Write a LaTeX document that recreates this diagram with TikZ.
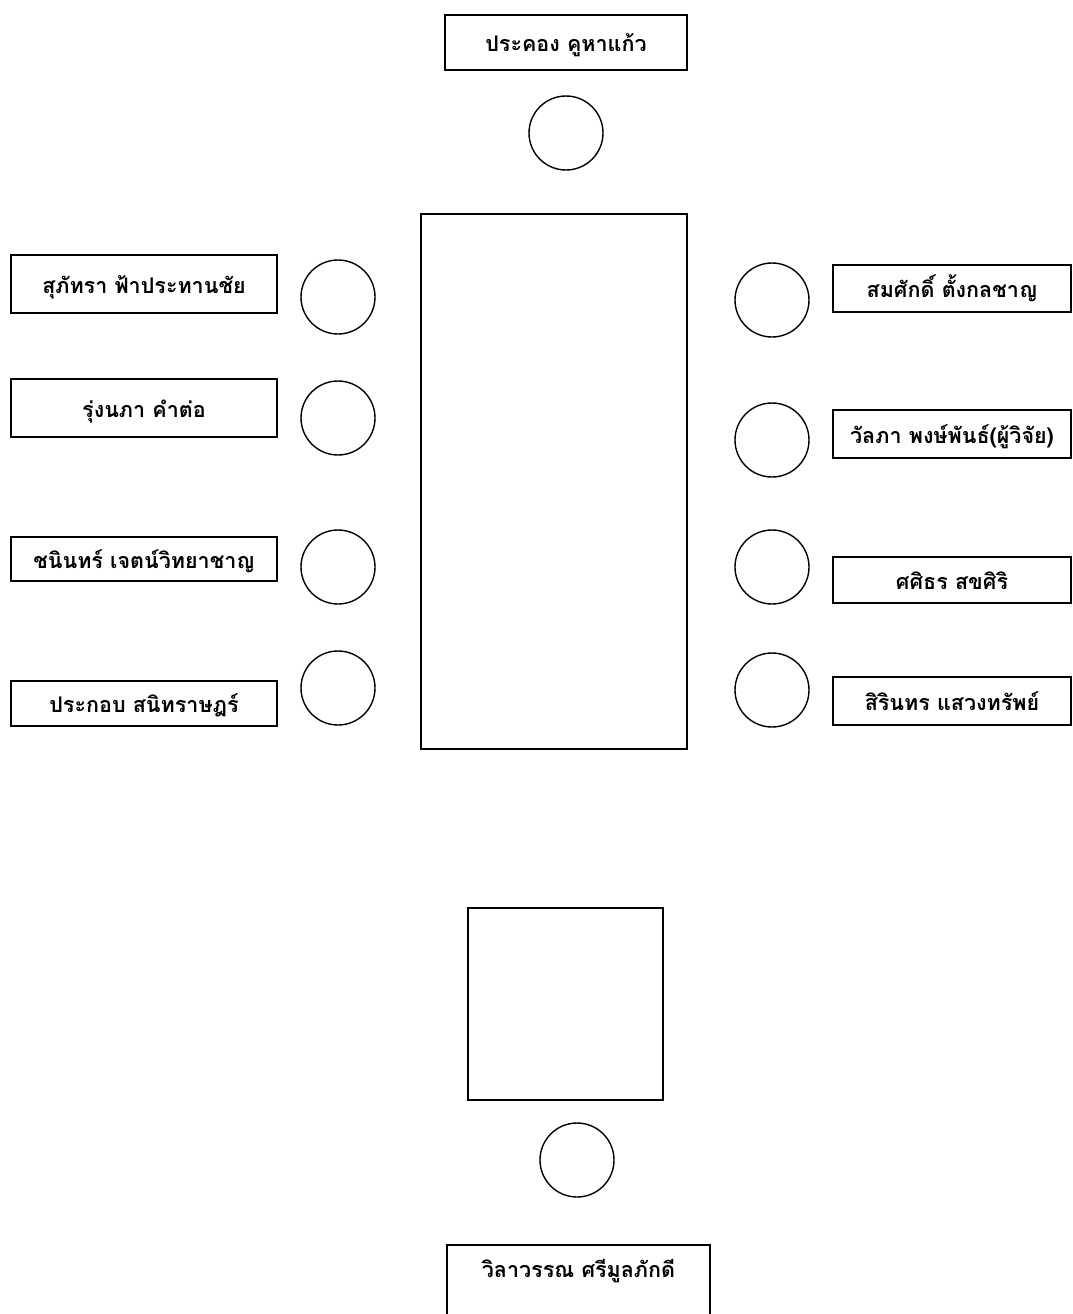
\documentclass[tikz,border=0pt]{standalone}
\usepackage{fontspec}
\newfontfamily\thaifont[Script=Thai]{Loma}
\newcommand{\lowered}[1]{\raisebox{-9pt}[0pt][0pt]{#1}}
\begin{document}
\begin{tikzpicture}[x=1pt,y=-1pt,
  namebox/.style={draw, line width=2.4pt, inner sep=0pt, font=\thaifont\bfseries\fontsize{21.5}{24}\selectfont},
  seat/.style={draw, circle, line width=1.4pt, minimum size=74pt, inner sep=0pt},
  tablebox/.style={draw, line width=2.4pt, inner sep=0pt},
  label/.style={inner sep=0pt, font=\thaifont\bfseries\fontsize{21.5}{24}\selectfont}]
\useasboundingbox (0,0) rectangle (1073,1314);
% top
\node[namebox, minimum width=242pt, minimum height=55pt] (top) at (566,42.5) {\lowered{ประคอง คูหาแก้ว}};
\node[seat] (ctop) at (566,133) {};
% table
\node[tablebox, minimum width=266pt, minimum height=535pt] (table) at (554,481.5) {};
% left
\node[namebox, minimum width=266pt, minimum height=58pt] (l1) at (144,284) {\lowered{สุภัทรา ฟ้าประทานชัย}};
\node[namebox, minimum width=266pt, minimum height=58pt] (l2) at (144,408) {\lowered{รุ่งนภา คำต่อ}};
\node[namebox, minimum width=266pt, minimum height=44pt] (l3) at (144,559) {\lowered{ชนินทร์ เจตน์วิทยาชาญ}};
\node[namebox, minimum width=266pt, minimum height=45pt] (l4) at (144,703.5) {\lowered{ประกอบ สนิทราษฎร์}};
\node[seat] (cl1) at (338,297) {};
\node[seat] (cl2) at (338,418) {};
\node[seat] (cl3) at (338,567) {};
\node[seat] (cl4) at (338,688) {};
% right
\node[seat] (cr1) at (772,300) {};
\node[seat] (cr2) at (772,440) {};
\node[seat] (cr3) at (772,567) {};
\node[seat] (cr4) at (772,690) {};
\node[namebox, minimum width=238pt, minimum height=47pt] (r1) at (952,288.5) {\lowered{สมศักดิ์ ตั้งกลชาญ}};
\node[namebox, minimum width=238pt, minimum height=48pt] (r2) at (952,434) {\lowered{วัลภา พงษ์พันธ์(ผู้วิจัย)}};
\node[namebox, minimum width=238pt, minimum height=46pt] (r3) at (952,580) {\lowered{ศศิธร สขศิริ}};
\node[namebox, minimum width=238pt, minimum height=48pt] (r4) at (952,701) {\lowered{สิรินทร แสวงทรัพย์}};
% bottom
\node[tablebox, minimum width=195pt, minimum height=192pt] (small) at (565.5,1004) {};
\node[seat] (cbot) at (577,1160) {};
\node[tablebox, minimum width=263pt, minimum height=90pt] (bot) at (578.5,1290) {};
\node[label] (botlabel) at (578.5,1268) {\lowered{วิลาวรรณ ศรีมูลภักดี}};
\end{tikzpicture}
\end{document}
